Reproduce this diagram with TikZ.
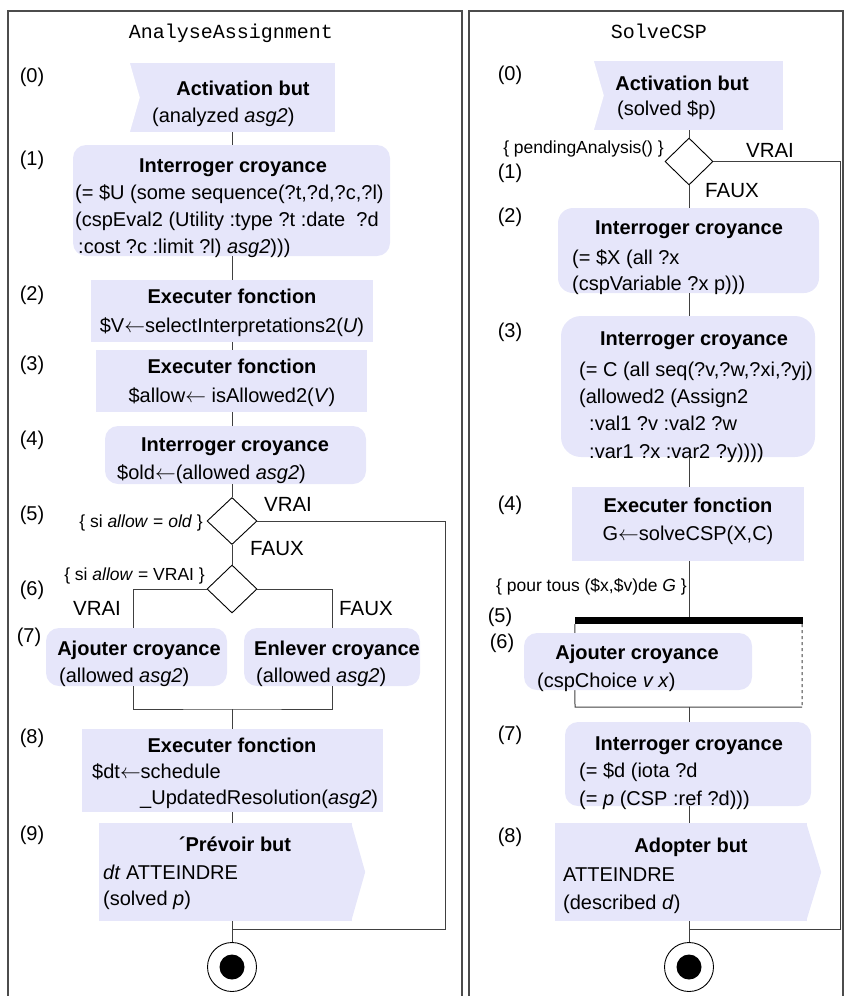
\documentclass[tikz,border=0pt]{standalone}
\usepackage{fontspec}
\setmainfont{Liberation Sans}
\setmonofont{Liberation Mono}
\usetikzlibrary{shapes.geometric}
\definecolor{lav}{RGB}{230,230,250}
\newcommand\asgarrow{\ensuremath{\leftarrow}}
\begin{document}
\begin{tikzpicture}[x=1pt,y=-1pt,
  box/.style={fill=lav,inner sep=0},
  rbox/.style={box,rounded corners=#1},
  rbox/.default=13pt,
  cond/.style={diamond,draw=black,line width=.9pt,fill=white,inner sep=0,
    minimum width=50pt,minimum height=47pt},
  flow/.style={draw=black!75,line width=1pt},
  lanebox/.style={draw=black!70,line width=1.2pt},
  ttl/.style={font=\bfseries\fontsize{20}{24}\selectfont,inner sep=0,anchor=base},
  mid/.style={font=\fontsize{20}{24}\selectfont,inner sep=0,anchor=base},
  body/.style={font=\fontsize{20}{#1}\selectfont,inner sep=0,
    anchor=north west,align=left,yshift=0.7*#1pt},
  body/.default=26.5,
  num/.style={font=\fontsize{20}{24}\selectfont,inner sep=0,anchor=base},
  guard/.style={font=\fontsize{17.5}{21}\selectfont,inner sep=0,anchor=base east},
  brlab/.style={font=\fontsize{20.5}{24}\selectfont,inner sep=0,anchor=base},
  lane/.style={font=\ttfamily\fontsize{20}{24}\selectfont,inner sep=0,anchor=base},
  endring/.style={circle,draw=black,line width=.9pt,fill=white,minimum size=49pt,inner sep=0},
  enddot/.style={circle,fill=black,minimum size=25pt,inner sep=0}]
\useasboundingbox (0,0) rectangle (844,996);
% lanes
\draw[lanebox] (8,996) |- (462,11) -- (462,996);
\draw[lanebox] (469,996) |- (843,11) -- (843,996);
\node[lane] (aalane) at (231,38) {AnalyseAssignment};
\node[lane] (sclane) at (659,38) {SolveCSP};
% step numbers
\foreach \n/\xx/\yy in {0/32/82,1/32/165,2/32/300,3/32/370,4/32/445,
  5/32/520,6/32/595,7/29/642,8/32/743,9/32/840}
  \node[num] (aan\n) at (\xx,\yy) {(\n)};
\foreach \n/\xx/\yy in {0/510/80,1/510/178,2/510/222,3/510/337,4/510/510,
  5/500/622,6/502/648,7/510/740,8/510/842}
  \node[num] (scn\n) at (\xx,\yy) {(\n)};

% ---- AnalyseAssignment ----
\node[box,minimum width=205pt,minimum height=69pt] (aa0) at (232.5,97.5) {};
\fill[white] (aa0.north west) -- ([xshift=10pt]aa0.west) -- (aa0.south west) -- cycle;
\node[ttl] (aa0t) at (243,95) {Activation but};
\node[body] (aa0b) at (152,122) {\strut(analyzed \textit{asg2})};

\node[rbox,minimum width=317pt,minimum height=111pt] (aa1) at (231.5,200.5) {};
\node[ttl] (aa1t) at (233,172) {Interroger croyance};
\node[body=27] (aa1b) at (75,199) {\strut(= \$U (some sequence(?t,?d,?c,?l)\\
  \strut(cspEval2 (Utility :type ?t :date~ ?d\\
  \strut\hspace*{3pt}:cost ?c :limit ?l) \textit{asg2})))};

\node[box,minimum width=282pt,minimum height=62pt] (aa2) at (232,311) {};
\node[ttl] (aa2t) at (232,303) {Executer fonction};
\node[mid] (aa2b) at (232,332) {\$V\asgarrow selectInterpretations2(\textit{U})};

\node[box,minimum width=271pt,minimum height=62pt] (aa3) at (231.5,381) {};
\node[ttl] (aa3t) at (232,373) {Executer fonction};
\node[mid] (aa3b) at (232,402) {\$allow\asgarrow\ isAllowed2(\textit{V})};

\node[rbox,minimum width=261pt,minimum height=58pt] (aa4) at (235.5,455) {};
\node[ttl] (aa4t) at (235,451) {Interroger croyance};
\node[body] (aa4b) at (117,479) {\strut\$old\asgarrow(allowed \textit{asg2})};

\node[cond] (aad1) at (232,521) {};
\node[guard] (aag1) at (203,527) {\{ si \textit{allow} = \textit{old} \}};
\node[brlab] (aav1) at (288,511) {VRAI};
\node[brlab] (aaf1) at (277,555) {FAUX};

\node[cond,minimum height=48pt] (aad2) at (232,589) {};
\node[guard] (aag2) at (205,580) {\{ si \textit{allow} = VRAI \}};
\node[brlab] (aav2) at (97,615) {VRAI};
\node[brlab] (aaf2) at (366,615) {FAUX};

\node[rbox,minimum width=181pt,minimum height=58pt] (aa7a) at (136.5,657) {};
\node[ttl] (aa7at) at (139,655) {Ajouter croyance};
\node[body] (aa7ab) at (59,682) {\strut(allowed \textit{asg2})};
\node[rbox,minimum width=176pt,minimum height=58pt] (aa7b) at (332,657) {};
\node[ttl] (aa7bt) at (337,655) {Enlever croyance};
\node[body] (aa7bb) at (256,682) {\strut(allowed \textit{asg2})};

\node[box,minimum width=301pt,minimum height=83pt] (aa8) at (232.5,770.5) {};
\node[ttl] (aa8t) at (232,752) {Executer fonction};
\node[body=26] (aa8b) at (92,778) {\strut\$dt\asgarrow schedule\\
  \strut\hspace*{48pt}\_UpdatedResolution(\textit{asg2})};

\node[box,minimum width=253pt,minimum height=98pt] (aa9) at (225.5,872) {};
\fill[lav] ([xshift=-1pt]aa9.north east) -- ([xshift=13pt]aa9.east)
  -- ([xshift=-1pt]aa9.south east) -- cycle;
\node[ttl] (aa9t) at (235,851) {´Prévoir but};
\node[body=26] (aa9b) at (103,879) {\strut\textit{dt} ATTEINDRE\\
  \strut(solved \textit{p})};

\node[endring] (aaend) at (232,967) {};
\node[enddot] (aaenddot) at (aaend) {};

% connectors
\foreach \a/\b in {aa0/aa1,aa1/aa2,aa2/aa3,aa3/aa4,aa4/aad1,aad1/aad2,aa8/aa9,aa9/aaend}
  \draw[flow] (\a.south -| aad1) -- (\b.north -| aad1);
\draw[flow] (aad2.west) -| ([xshift=-3.5pt]aa7a.north);
\draw[flow] (aad2.east) -| (aa7b.north);
\coordinate (aamerge) at (232,709);
\draw[flow] ([xshift=-3.5pt]aa7a.south) |- (aamerge) -| (aa7b.south);
\draw[flow] (aamerge) -- (aa8.north -| aamerge);
\coordinate (aaloop) at (445,929);
\draw[flow] (aad1.east) -| (aaloop) -- (aaloop -| aaend);

% ---- SolveCSP ----
\node[box,minimum width=189pt,minimum height=69pt] (sc0) at (688.5,95.5) {};
\fill[white] (sc0.north west) -- ([xshift=10pt]sc0.west) -- (sc0.south west) -- cycle;
\node[ttl] (sc0t) at (682,90) {Activation but};
\node[body] (sc0b) at (617,115) {\strut(solved \$p)};

\node[cond,minimum width=48pt] (scd1) at (689,161.5) {};
\node[guard] (scg1) at (664,153) {\{ pendingAnalysis() \}};
\node[brlab] (scv1) at (770,157) {VRAI};
\node[brlab] (scf1) at (732,197) {FAUX};

\node[rbox=15pt,minimum width=261pt,minimum height=85pt] (sc2) at (688.5,250.5) {};
\node[ttl] (sc2t) at (689,234) {Interroger croyance};
\node[body=26] (sc2b) at (572,264) {\strut(= \$X (all ?x\\
  \strut(cspVariable ?x p)))};

\node[rbox=20pt,minimum width=254pt,minimum height=141pt] (sc3) at (688,386.5) {};
\node[ttl] (sc3t) at (694,345) {Interroger croyance};
\node[body=27.3] (sc3b) at (579,376) {\strut(= C (all seq(?v,?w,?xi,?yj)\\
  \strut(allowed2 (Assign2\\
  \strut\hspace*{10pt}:val1 ?v :val2 ?w\\
  \strut\hspace*{10pt}:var1 ?x :var2 ?y))))};

\node[box,minimum width=232pt,minimum height=74pt] (sc4) at (688,524) {};
\node[ttl] (sc4t) at (688,512) {Executer fonction};
\node[mid] (sc4b) at (688,540) {G\asgarrow solveCSP(X,C)};

\node[guard] (scg2) at (687,591) {\{ pour tous (\$x,\$v)de \textit{G} \}};
\node[fill=black,inner sep=0,minimum width=228pt,minimum height=7pt] (sfork) at (689,620.5) {};
\coordinate (scjl) at (575,707);
\coordinate (scjr) at (802,707);
\draw[flow] (sfork.south west) -- (scjl) -- (scjr);
\draw[flow,dashed] ([xshift=-1pt]sfork.south east) -- (scjr);

\node[rbox,minimum width=228pt,minimum height=57pt] (sc6) at (638,661.5) {};
\node[ttl] (sc6t) at (637,659) {Ajouter croyance};
\node[body] (sc6b) at (537,687) {\strut(cspChoice \textit{v x})};

\node[rbox,minimum width=246pt,minimum height=84pt] (sc7) at (688,764) {};
\node[ttl] (sc7t) at (689,750) {Interroger croyance};
\node[body=28] (sc7b) at (579,777) {\strut(= \$d (iota ?d\\
  \strut(= \textit{p} (CSP :ref ?d)))};

\node[box,minimum width=252pt,minimum height=98pt] (sc8) at (681,872) {};
\fill[lav] ([xshift=-1pt]sc8.north east) -- ([xshift=14pt]sc8.east)
  -- ([xshift=-1pt]sc8.south east) -- cycle;
\node[ttl] (sc8t) at (691,852) {Adopter but};
\node[body=28] (sc8b) at (563,881) {\strut ATTEINDRE\\
  \strut(described \textit{d})};

\node[endring] (scend) at (689,967) {};
\node[enddot] (scenddot) at (scend) {};

% connectors
\foreach \a/\b in {sc0/scd1,scd1/sc2,sc2/sc3,sc3/sc4,sc4/sfork,sc7/sc8,sc8/scend}
  \draw[flow] (\a.south -| scend) -- (\b.north -| scend);
\draw[flow] (scjl -| scend) -- (sc7.north -| scend);
\coordinate (scloop) at (840,929);
\draw[flow] (scd1.east) -| (scloop) -- (scloop -| scend);
\end{tikzpicture}
\end{document}
